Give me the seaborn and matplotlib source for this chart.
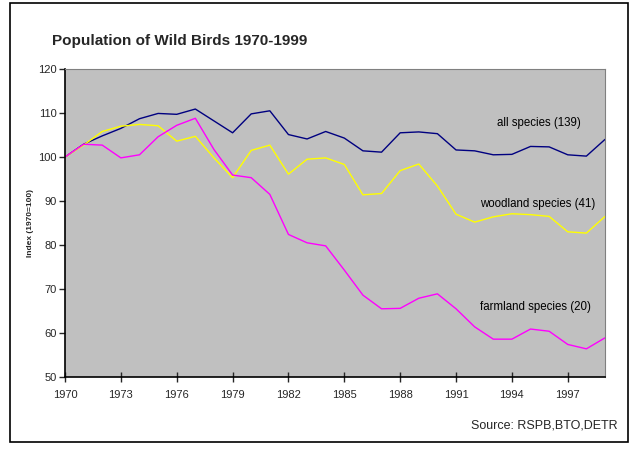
import matplotlib
matplotlib.use("Agg")
import matplotlib.pyplot as plt
import seaborn as sns
import pandas as pd
import numpy as np
from matplotlib.patches import Rectangle

# data (index, 1970 = 100)
years = list(range(1970, 2000))
all_species = [100, 102.9, 104.8, 106.5, 108.7, 109.9, 109.7, 110.9, 108.2, 105.5,
               109.8, 110.5, 105.1, 104.1, 105.8, 104.3, 101.4, 101.1, 105.5, 105.7,
               105.3, 101.6, 101.4, 100.5, 100.6, 102.4, 102.3, 100.5, 100.2, 104.0]
woodland = [100, 102.7, 105.8, 107.0, 107.4, 107.1, 103.6, 104.7, 99.8, 95.3,
            101.5, 102.7, 96.1, 99.5, 99.8, 98.3, 91.4, 91.7, 96.9, 98.4,
            93.4, 87.0, 85.2, 86.4, 87.1, 86.9, 86.5, 83.0, 82.7, 86.5]
farmland = [100, 102.9, 102.7, 99.8, 100.5, 104.6, 107.2, 108.8, 101.7, 95.9,
            95.3, 91.5, 82.4, 80.5, 79.8, 74.3, 68.6, 65.5, 65.6, 67.9,
            68.9, 65.5, 61.4, 58.6, 58.6, 60.9, 60.4, 57.4, 56.4, 58.9]

series_names = ["all species (139)", "woodland species (41)", "farmland species (20)"]
series_colors = ["#000080", "#FFFF00", "#FF00FF"]
label_pos = [(1993.2, 107.7), (1992.3, 89.3), (1992.3, 65.9)]

df = pd.DataFrame({
    "year": years * 3,
    "index": all_species + woodland + farmland,
    "series": [series_names[0]] * 30 + [series_names[1]] * 30 + [series_names[2]] * 30,
})

sns.set_style("ticks")
plt.rcParams["font.family"] = ["Liberation Sans", "DejaVu Sans"]

fig = plt.figure(figsize=(6.34, 4.54), dpi=100)
ax = fig.add_axes([65 / 634, 1 - 377 / 454, 540 / 634, 308 / 454])
ax.set_facecolor("#C0C0C0")

sns.lineplot(data=df, x="year", y="index", hue="series",
             palette=dict(zip(series_names, series_colors)),
             linewidth=1.0, legend=False, ax=ax)

for name, (lx, ly) in zip(series_names, label_pos):
    ax.text(lx, ly, name, fontsize=8.3, va="center", ha="left", color="black")

ax.set_xlim(1970, 1999)
ax.set_ylim(50, 120)
ax.set_xticks(range(1970, 1999, 3))
ax.set_yticks(range(50, 121, 10))
ax.tick_params(axis="x", direction="inout", length=7, labelsize=8, pad=6, width=1)
ax.tick_params(axis="y", direction="out", length=4, labelsize=8, pad=2, width=1)
ax.set_xlabel("")
ax.set_ylabel("Index (1970=100)", fontsize=6, fontweight="bold", labelpad=3)

for side in ["top", "right"]:
    ax.spines[side].set_visible(True)
    ax.spines[side].set_color("#808080")
for side in ["left", "bottom"]:
    ax.spines[side].set_color("black")
    ax.spines[side].set_linewidth(1.2)

fig.text(52 / 634, 1 - 41 / 454, "Population of Wild Birds 1970-1999",
         fontsize=11, fontweight="bold", va="center", ha="left")
fig.text(618 / 634, 1 - 425 / 454, "Source: RSPB,BTO,DETR",
         fontsize=9, va="center", ha="right")

# outer frame
fig.patches.append(Rectangle((10 / 634, 1 - 442 / 454), 618 / 634, 439 / 454,
                             transform=fig.transFigure, fill=False,
                             edgecolor="black", linewidth=1.2))

fig.savefig("out.png", dpi=100)
